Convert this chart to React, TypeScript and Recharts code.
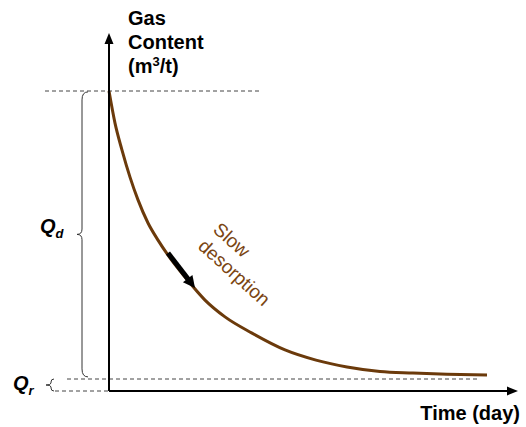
import React from 'react';
import { ComposedChart, Line, XAxis, YAxis, ReferenceLine } from 'recharts';

// desorption curve
const timeDays = [0, 0.6, 1.3, 2.1, 2.9, 3.9, 4.9, 5.9, 7.6, 9.6, 11.6, 14.3, 17.6, 20.7, 23.8, 27.1, 30.4, 33.8, 37.8];
const gasContent = [10, 8.93, 8.03, 7.13, 6.37, 5.6, 5.03, 4.53, 3.8, 3.03, 2.47, 1.93, 1.37, 1.03, 0.8, 0.65, 0.6, 0.56, 0.53];

const qInitial = 10;
const qResidual = 0.4;
const yAxisTop = 11.93;
const xAxisEnd = 40.9;

const data = timeDays.map((t, i) => ({ t, q: gasContent[i] }));

const FONT = 'Arial, "Liberation Sans", Helvetica, sans-serif';
const BROWN = '#6B3A0B';

const arrowShape = (width: number, headLen: number, headHalf: number) => (props: any) => {
  const { x1, y1, x2, y2 } = props;
  const dx = x2 - x1;
  const dy = y2 - y1;
  const len = Math.sqrt(dx * dx + dy * dy) || 1;
  const ux = dx / len;
  const uy = dy / len;
  const bx = x2 - ux * headLen;
  const by = y2 - uy * headLen;
  const px = -uy * headHalf;
  const py = ux * headHalf;
  return (
    <g>
      <line x1={x1} y1={y1} x2={bx + ux} y2={by + uy} stroke="#000" strokeWidth={width} />
      <polygon points={`${x2},${y2} ${bx + px},${by + py} ${bx - px},${by - py}`} fill="#000" />
    </g>
  );
};

// curly brace pointing left, drawn between the two segment ends
const braceShape = (tip: number, curl: number) => (props: any) => {
  const { x1, y1, y2 } = props;
  const top = Math.min(y1, y2);
  const bot = Math.max(y1, y2);
  const mid = (top + bot) / 2;
  const r = Math.min(8, (bot - top) / 4);
  const x = x1;
  const d = `M${x + curl},${top} Q${x},${top} ${x},${top + r} L${x},${mid - r / 1.5} Q${x},${mid} ${x - tip},${mid} Q${x},${mid} ${x},${mid + r / 1.5} L${x},${bot - r} Q${x},${bot} ${x + curl},${bot}`;
  return <path d={d} fill="none" stroke="#333" strokeWidth={1} />;
};

export default function App() {
  return (
    <div style={{ position: 'absolute', left: 0, top: 0, background: '#fff' }}>
      <ComposedChart
        width={526}
        height={427}
        data={data}
        margin={{ top: 31, right: 7, bottom: 6, left: 39 }}
      >
        <XAxis dataKey="t" type="number" domain={[-7, 41]} hide allowDataOverflow />
        <YAxis type="number" domain={[-1, 12]} hide allowDataOverflow />

        <ReferenceLine
          segment={[{ x: -6.4, y: qInitial }, { x: 15.1, y: qInitial }]}
          stroke="#444"
          strokeDasharray="4 3"
          strokeWidth={1}
        />
        <ReferenceLine
          segment={[{ x: -4.2, y: qResidual }, { x: 37.1, y: qResidual }]}
          stroke="#444"
          strokeDasharray="4 3"
          strokeWidth={1}
        />
        <ReferenceLine
          segment={[{ x: -5.4, y: 0 }, { x: 0, y: 0 }]}
          stroke="#444"
          strokeDasharray="4 3"
          strokeWidth={1}
        />

        <ReferenceLine segment={[{ x: -2.7, y: 9.97 }, { x: -2.7, y: 0.47 }]} shape={braceShape(5, 6)} />
        <ReferenceLine segment={[{ x: -5.8, y: 0.4 }, { x: -5.8, y: 0 }]} shape={braceShape(5, 3)} />

        <Line
          dataKey="q"
          type="monotone"
          stroke={BROWN}
          strokeWidth={3}
          dot={false}
          isAnimationActive={false}
        />

        <ReferenceLine segment={[{ x: 0, y: 0 }, { x: 0, y: yAxisTop }]} shape={arrowShape(2, 11, 4.5)} />
        <ReferenceLine segment={[{ x: 0, y: 0 }, { x: xAxisEnd, y: 0 }]} shape={arrowShape(2, 11, 4.5)} />
        <ReferenceLine segment={[{ x: 5.9, y: 4.6 }, { x: 8.6, y: 3.43 }]} shape={arrowShape(5, 12, 6)} />

        <text fontFamily={FONT} fontWeight="bold" fontSize={20} fill="#000">
          <tspan x={128} y={25}>Gas</tspan>
          <tspan x={128} y={49}>Content</tspan>
          <tspan x={128} y={73}>
            (m<tspan fontSize={13} dy={-7}>3</tspan>
            <tspan dy={7}>/t)</tspan>
          </tspan>
        </text>
        <text x={520} y={420} textAnchor="end" fontFamily={FONT} fontWeight="bold" fontSize={20} fill="#000">
          Time (day)
        </text>
        <text x={40} y={233} fontFamily={FONT} fontWeight="bold" fontStyle="italic" fontSize={20} fill="#000">
          Q<tspan fontSize={13} dy={5}>d</tspan>
        </text>
        <text x={13} y={390} fontFamily={FONT} fontWeight="bold" fontStyle="italic" fontSize={20} fill="#000">
          Q<tspan fontSize={13} dy={5}>r</tspan>
        </text>
        <text transform="rotate(42 212 231)" fontFamily={FONT} fontSize={19} fill="#7A4512">
          <tspan x={212} y={231}>Slow</tspan>
          <tspan x={212} y={253.5}>desorption</tspan>
        </text>
      </ComposedChart>
    </div>
  );
}
